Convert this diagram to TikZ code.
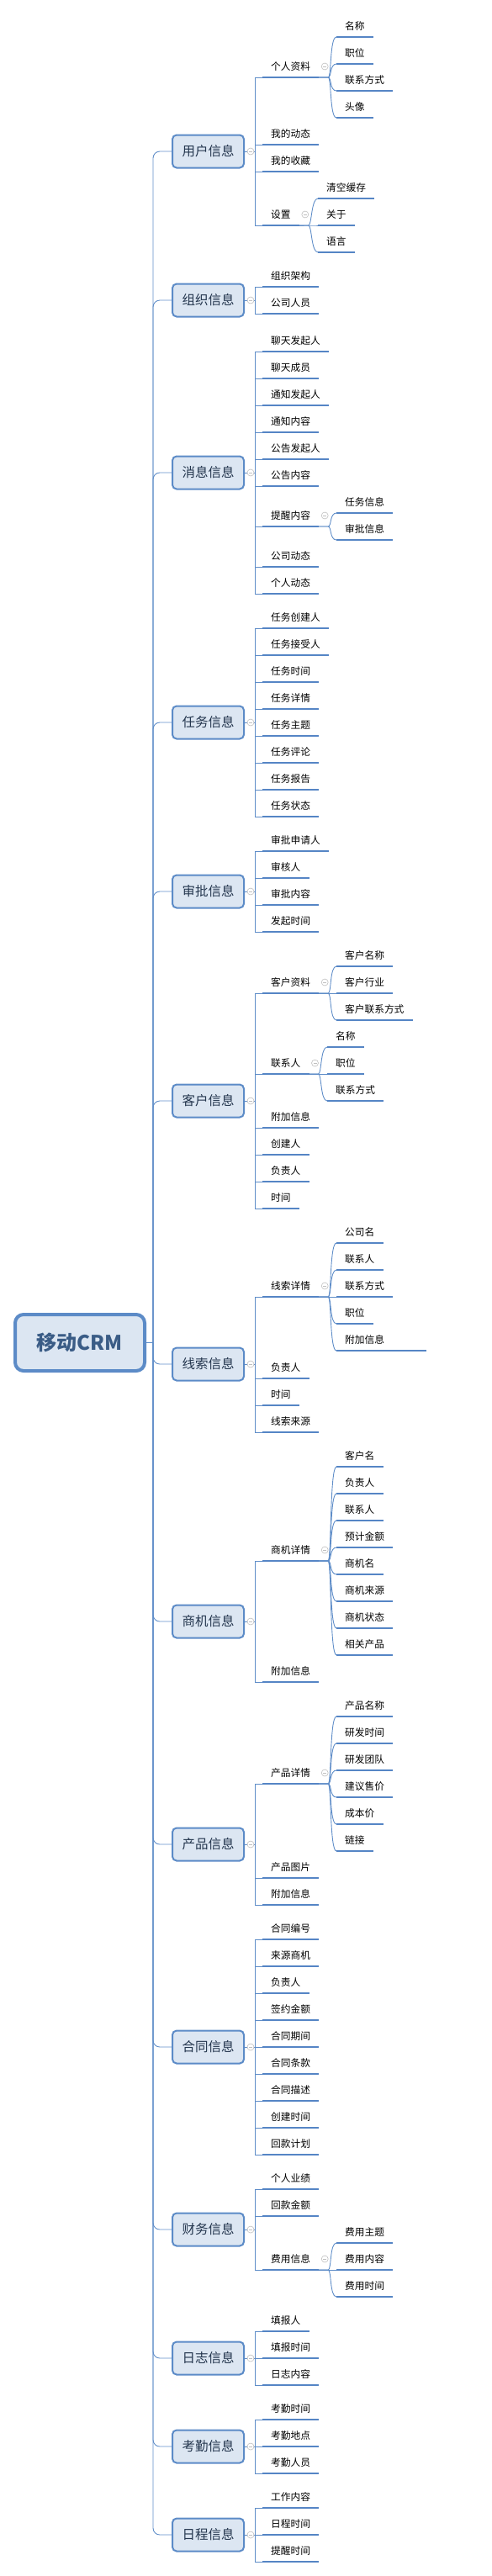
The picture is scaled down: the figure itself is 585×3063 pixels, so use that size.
\documentclass[tikz,border=0pt]{standalone}
\usepackage{fontspec}
\setmainfont{Noto Sans CJK SC}
\definecolor{lineblue}{HTML}{5F8DC8}
\definecolor{ulblue}{HTML}{5585C5}
\definecolor{boxfill}{HTML}{DCE6F2}
\definecolor{boxdraw}{HTML}{5C8BC7}
\definecolor{cattext}{HTML}{24364E}
\definecolor{roottext}{HTML}{3A5C86}
\definecolor{circgray}{HTML}{BFBFBF}
\tikzset{
 conn/.style={draw=lineblue, line width=0.9pt},
 uline/.style={draw=ulblue, line width=2.6pt},
 itm/.style={inner xsep=10pt, inner ysep=0pt, font=\fontsize{11.7}{12}\selectfont, text=black},
 catbox/.style={draw=boxdraw, line width=2pt, fill=boxfill, rounded corners=5pt, minimum width=85pt, minimum height=39pt, inner sep=0pt, font=\fontsize{15.5}{16}\selectfont, text=cattext},
 rootbox/.style={draw=boxdraw, line width=4pt, fill=boxfill, rounded corners=10pt, minimum width=154pt, minimum height=67pt, inner sep=0pt, font=\fontsize{24}{26}\selectfont\bfseries, text=roottext},
 cmark/.style={draw=circgray, line width=0.6pt},
}
\newcommand\addleaf[5][]{%
  \node[itm,anchor=base west,#1] (#2) at (#3,#4-8.5) {#5};
  \coordinate (#2-l) at ([yshift=-8.5pt]#2.base west);
  \coordinate (#2-r) at ([yshift=-8.5pt]#2.base east);
  \draw[uline] (#2-l) -- (#2-r);
}
\newcommand\collapsemark[1]{%
  \draw[cmark, fill=white] (#1) circle (4pt);
  \draw[cmark] ([xshift=-2pt]#1) -- ([xshift=2pt]#1);
}
\newcommand\catnode[3]{%
  \node[catbox] (#1) at (247.5,#2) {#3};
  \draw[conn, rounded corners=8pt] (182,1596.5) |- (#1.west);
  \coordinate (#1-bar) at (303,#2);
  \coordinate (#1-c) at (298,#2);
  \draw[conn] (#1.east) -- (#1-bar);
  \collapsemark{#1-c}
}
\newcommand\tick[2]{\draw[conn] (#1-bar) |- (#2-l);}
\newcommand\sub[2]{\draw[conn] (#1-r) -- ++(11,0) .. controls +(4,0) and +(-8,0) .. (#2-l);}
\newcommand\pmark[1]{%
  \coordinate (#1-c) at ([shift={(7,-13)}]#1-r);
  \collapsemark{#1-c}
}
\begin{document}
\begin{tikzpicture}[x=1pt,y=-1pt]
\useasboundingbox (0,0) rectangle (585,3063);
\node[rootbox] (root) at (95,1596.5) {移动CRM};
\draw[conn] (root.east) -- (182,1596.5);

% 用户信息
\catnode{u}{180}{用户信息}
\addleaf{u1}{312}{92}{个人资料}
\addleaf{u2}{312}{172}{我的动态}
\addleaf{u3}{312}{204}{我的收藏}
\addleaf{u4}{312}{268}{设置}
\tick{u}{u1}\tick{u}{u2}\tick{u}{u3}\tick{u}{u4}
\addleaf{u1a}{400}{44}{名称}
\addleaf{u1b}{400}{76}{职位}
\addleaf{u1c}{400}{108}{联系方式}
\addleaf{u1d}{400}{140}{头像}
\sub{u1}{u1a}\sub{u1}{u1b}\sub{u1}{u1c}\sub{u1}{u1d}
\pmark{u1}
\addleaf{u4a}{378}{236}{清空缓存}
\addleaf{u4b}{378}{268}{关于}
\addleaf{u4c}{378}{300}{语言}
\sub{u4}{u4a}\sub{u4}{u4b}\sub{u4}{u4c}
\pmark{u4}

% 组织信息
\catnode{o}{357}{组织信息}
\addleaf{o1}{312}{341}{组织架构}
\addleaf{o2}{312}{373}{公司人员}
\tick{o}{o1}\tick{o}{o2}

% 消息信息
\catnode{m}{562}{消息信息}
\addleaf{m1}{312}{418}{聊天发起人}
\addleaf{m2}{312}{450}{聊天成员}
\addleaf{m3}{312}{482}{通知发起人}
\addleaf{m4}{312}{514}{通知内容}
\addleaf{m5}{312}{546}{公告发起人}
\addleaf{m6}{312}{578}{公告内容}
\addleaf{m7}{312}{626}{提醒内容}
\addleaf{m8}{312}{674}{公司动态}
\addleaf{m9}{312}{706}{个人动态}
\tick{m}{m1}\tick{m}{m2}\tick{m}{m3}\tick{m}{m4}\tick{m}{m5}\tick{m}{m6}\tick{m}{m7}\tick{m}{m8}\tick{m}{m9}
\addleaf{m7a}{400}{610}{任务信息}
\addleaf{m7b}{400}{642}{审批信息}
\sub{m7}{m7a}\sub{m7}{m7b}
\pmark{m7}

% 任务信息
\catnode{t}{859}{任务信息}
\addleaf{t1}{312}{747}{任务创建人}
\addleaf{t2}{312}{779}{任务接受人}
\addleaf{t3}{312}{811}{任务时间}
\addleaf{t4}{312}{843}{任务详情}
\addleaf{t5}{312}{875}{任务主题}
\addleaf{t6}{312}{907}{任务评论}
\addleaf{t7}{312}{939}{任务报告}
\addleaf{t8}{312}{971}{任务状态}
\tick{t}{t1}\tick{t}{t2}\tick{t}{t3}\tick{t}{t4}\tick{t}{t5}\tick{t}{t6}\tick{t}{t7}\tick{t}{t8}

% 审批信息
\catnode{s}{1060}{审批信息}
\addleaf{s1}{312}{1012}{审批申请人}
\addleaf{s2}{312}{1044}{审核人}
\addleaf{s3}{312}{1076}{审批内容}
\addleaf{s4}{312}{1108}{发起时间}
\tick{s}{s1}\tick{s}{s2}\tick{s}{s3}\tick{s}{s4}

% 客户信息
\catnode{k}{1309}{客户信息}
\addleaf{k1}{312}{1181}{客户资料}
\addleaf{k2}{312}{1277}{联系人}
\addleaf{k3}{312}{1341}{附加信息}
\addleaf{k4}{312}{1373}{创建人}
\addleaf{k5}{312}{1405}{负责人}
\addleaf{k6}{312}{1437}{时间}
\tick{k}{k1}\tick{k}{k2}\tick{k}{k3}\tick{k}{k4}\tick{k}{k5}\tick{k}{k6}
\addleaf{k1a}{400}{1149}{客户名称}
\addleaf{k1b}{400}{1181}{客户行业}
\addleaf{k1c}{400}{1213}{客户联系方式}
\sub{k1}{k1a}\sub{k1}{k1b}\sub{k1}{k1c}
\pmark{k1}
\addleaf{k2a}{389}{1245}{名称}
\addleaf{k2b}{389}{1277}{职位}
\addleaf{k2c}{389}{1309}{联系方式}
\sub{k2}{k2a}\sub{k2}{k2b}\sub{k2}{k2c}
\pmark{k2}

% 线索信息
\catnode{x}{1622}{线索信息}
\addleaf{x1}{312}{1542}{线索详情}
\addleaf{x2}{312}{1639}{负责人}
\addleaf{x3}{312}{1671}{时间}
\addleaf{x4}{312}{1703}{线索来源}
\tick{x}{x1}\tick{x}{x2}\tick{x}{x3}\tick{x}{x4}
\addleaf{x1a}{400}{1478}{公司名}
\addleaf{x1b}{400}{1510}{联系人}
\addleaf{x1c}{400}{1542}{联系方式}
\addleaf{x1d}{400}{1574}{职位}
\addleaf[minimum width=107pt, align=left, text width=87pt]{x1e}{400}{1606}{附加信息}
\sub{x1}{x1a}\sub{x1}{x1b}\sub{x1}{x1c}\sub{x1}{x1d}\sub{x1}{x1e}
\pmark{x1}

% 商机信息
\catnode{b}{1928}{商机信息}
\addleaf{b1}{312}{1856}{商机详情}
\addleaf{b2}{312}{2000}{附加信息}
\tick{b}{b1}\tick{b}{b2}
\addleaf{b1a}{400}{1744}{客户名}
\addleaf{b1b}{400}{1776}{负责人}
\addleaf{b1c}{400}{1808}{联系人}
\addleaf{b1d}{400}{1840}{预计金额}
\addleaf{b1e}{400}{1872}{商机名}
\addleaf{b1f}{400}{1904}{商机来源}
\addleaf{b1g}{400}{1936}{商机状态}
\addleaf{b1h}{400}{1968}{相关产品}
\sub{b1}{b1a}\sub{b1}{b1b}\sub{b1}{b1c}\sub{b1}{b1d}\sub{b1}{b1e}\sub{b1}{b1f}\sub{b1}{b1g}\sub{b1}{b1h}
\pmark{b1}

% 产品信息
\catnode{p}{2193}{产品信息}
\addleaf{p1}{312}{2121}{产品详情}
\addleaf{p2}{312}{2233}{产品图片}
\addleaf{p3}{312}{2265}{附加信息}
\tick{p}{p1}\tick{p}{p2}\tick{p}{p3}
\addleaf{p1a}{400}{2041}{产品名称}
\addleaf{p1b}{400}{2073}{研发时间}
\addleaf{p1c}{400}{2105}{研发团队}
\addleaf{p1d}{400}{2137}{建议售价}
\addleaf{p1e}{400}{2169}{成本价}
\addleaf{p1f}{400}{2201}{链接}
\sub{p1}{p1a}\sub{p1}{p1b}\sub{p1}{p1c}\sub{p1}{p1d}\sub{p1}{p1e}\sub{p1}{p1f}
\pmark{p1}

% 合同信息
\catnode{h}{2434}{合同信息}
\addleaf{h1}{312}{2306}{合同编号}
\addleaf{h2}{312}{2338}{来源商机}
\addleaf{h3}{312}{2370}{负责人}
\addleaf{h4}{312}{2402}{签约金额}
\addleaf{h5}{312}{2434}{合同期间}
\addleaf{h6}{312}{2466}{合同条款}
\addleaf{h7}{312}{2498}{合同描述}
\addleaf{h8}{312}{2530}{创建时间}
\addleaf{h9}{312}{2562}{回款计划}
\tick{h}{h1}\tick{h}{h2}\tick{h}{h3}\tick{h}{h4}\tick{h}{h5}\tick{h}{h6}\tick{h}{h7}\tick{h}{h8}\tick{h}{h9}

% 财务信息
\catnode{f}{2651}{财务信息}
\addleaf{f1}{312}{2603}{个人业绩}
\addleaf{f2}{312}{2635}{回款金额}
\addleaf{f3}{312}{2699}{费用信息}
\tick{f}{f1}\tick{f}{f2}\tick{f}{f3}
\addleaf{f3a}{400}{2667}{费用主题}
\addleaf{f3b}{400}{2699}{费用内容}
\addleaf{f3c}{400}{2731}{费用时间}
\sub{f3}{f3a}\sub{f3}{f3b}\sub{f3}{f3c}
\pmark{f3}

% 日志信息
\catnode{r}{2804}{日志信息}
\addleaf{r1}{312}{2772}{填报人}
\addleaf{r2}{312}{2804}{填报时间}
\addleaf{r3}{312}{2836}{日志内容}
\tick{r}{r1}\tick{r}{r2}\tick{r}{r3}

% 考勤信息
\catnode{q}{2909}{考勤信息}
\addleaf{q1}{312}{2877}{考勤时间}
\addleaf{q2}{312}{2909}{考勤地点}
\addleaf{q3}{312}{2941}{考勤人员}
\tick{q}{q1}\tick{q}{q2}\tick{q}{q3}

% 日程信息
\catnode{d}{3014}{日程信息}
\addleaf{d1}{312}{2982}{工作内容}
\addleaf{d2}{312}{3014}{日程时间}
\addleaf{d3}{312}{3046}{提醒时间}
\tick{d}{d1}\tick{d}{d2}\tick{d}{d3}
\end{tikzpicture}
\end{document}
